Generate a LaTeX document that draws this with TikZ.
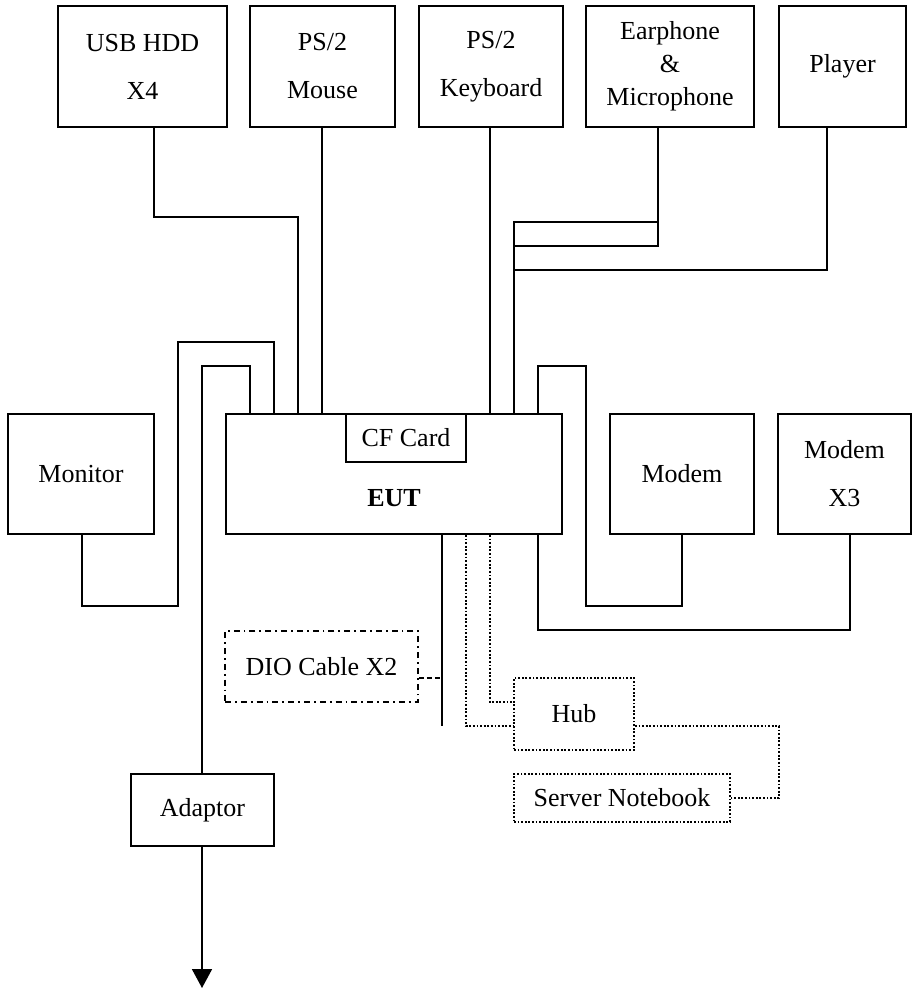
\documentclass[tikz,border=0pt]{standalone}
\usepackage{fontspec}
\setmainfont{Liberation Serif}
\usetikzlibrary{arrows.meta}

\begin{document}
\begin{tikzpicture}[x=0.5pt,y=-0.5pt,
  unit/.style={draw, line width=0.9pt, inner sep=0pt, align=center, font=\fontsize{13}{24}\selectfont},
  cable/.style={line width=0.9pt},
  dotcable/.style={line width=0.9pt, dash pattern=on 0.9pt off 0.9pt}]
\useasboundingbox (0,0) rectangle (912,988);
% devices on top
\node[unit, minimum width=84.5pt, minimum height=60.5pt] (usb) at (142.5,66.5) {USB HDD\\X4};
\node[unit, minimum width=72.5pt, minimum height=60.5pt] (mouse) at (322.5,66.5) {PS/2\\Mouse};
\node[unit, minimum width=72pt, minimum height=60.5pt] (keyboard) at (491,66.5) {PS/2\\Keyboard};
\node[unit, minimum width=84pt, minimum height=60.5pt, font=\fontsize{13}{16.5}\selectfont] (earphone) at (670,66.5) {Earphone\\\&\\Microphone};
\node[unit, minimum width=63.5pt, minimum height=60.5pt] (player) at (842.5,66.5) {Player};
% middle row
\node[unit, minimum width=73pt, minimum height=60pt] (monitor) at (81,474) {Monitor};
\node[unit, minimum width=168pt, minimum height=60pt] (eut) at (394,474) {};
\node[unit, minimum width=60pt, minimum height=24pt] (cfcard) at (406,438) {CF Card};
\node[font=\fontsize{13}{15}\selectfont\bfseries] (eutlabel) at (394,498) {EUT};
\node[unit, minimum width=72pt, minimum height=60pt] (modem) at (682,474) {Modem};
\node[unit, minimum width=66.5pt, minimum height=60pt] (modemx3) at (844.5,474) {Modem\\X3};
% lower part
\node[unit, dash dot, minimum width=96.5pt, minimum height=35.5pt] (dio) at (321.5,666.5) {DIO Cable X2};
\node[unit, dotcable, minimum width=60pt, minimum height=36pt] (hub) at (574,714) {Hub};
\node[unit, dotcable, minimum width=108pt, minimum height=24pt] (server) at (622,798) {Server Notebook};
\node[unit, minimum width=71.5pt, minimum height=36pt] (adaptor) at (202.5,810) {Adaptor};
\coordinate (dioend) at (442,726);
\coordinate (ground) at (202,988);
% cables
\draw[cable] (usb.south -| 154,0) |- (298,217) -- (eut.north -| 298,0);
\draw[cable] (mouse.south -| 322,0) -- (eut.north -| 322,0);
\draw[cable] (keyboard.south -| 490,0) -- (eut.north -| 490,0);
\draw[cable] (earphone.south -| 658,0) |- (514,246);
\draw[cable] (658,222) -- (514,222) -- (eut.north -| 514,0);
\draw[cable] (player.south -| 827,0) |- (514,270);
\draw[cable] (monitor.south -| 82,0) |- (178,606) |- (274,342) -- (eut.north -| 274,0);
\draw[cable] (eut.north -| 250,0) |- (202,366) -- (adaptor.north -| 202,0);
\draw[cable, -{Triangle[length=9.5pt,width=10pt]}] (adaptor.south -| 202,0) -- (ground);
\draw[cable] (eut.north -| 538,0) |- (586,366) |- (682,606) -- (modem.south -| 682,0);
\draw[cable] (eut.south -| 538,0) |- (850,630) -- (modemx3.south -| 850,0);
\draw[cable] (eut.south -| 442,0) -- (dioend);
\draw[cable, dash pattern=on 2.5pt off 1.5pt] (dio.east |- 0,678) -- (442,678);
\draw[dotcable] (eut.south -| 466,0) |- (hub.west |- 0,726);
\draw[dotcable] (eut.south -| 490,0) |- (hub.west |- 0,702);
\draw[dotcable] (hub.east |- 0,726) -| (779,798) -- (server.east |- 0,798);
\end{tikzpicture}
\end{document}
